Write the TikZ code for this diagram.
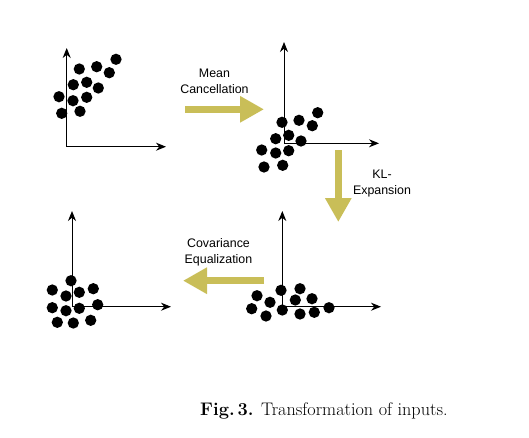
\documentclass[tikz,border=0pt]{standalone}
\usepackage{fontspec}
\newfontfamily\arialfont{Liberation Sans}
\usetikzlibrary{arrows.meta}
\definecolor{olive}{RGB}{201,190,88}
\begin{document}
\begin{tikzpicture}[x=1pt,y=-1pt,
  axis/.style={line width=1pt,-{Stealth[length=10pt,width=8pt]}},
  dot/.style={circle,fill=black,inner sep=0pt,minimum size=11.3pt},
  bigarrow/.style={olive,line width=7pt,-{Triangle[length=24pt,width=25pt]}},
  lbl/.style={font=\arialfont\fontsize{12.4}{16}\selectfont,align=center,inner sep=0pt}]
\useasboundingbox (0,0) rectangle (529,437);
% panel 1
\coordinate (o1) at (66.7,146.7);
\coordinate (y1) at (66.7,48);
\coordinate (x1) at (166,146.7);
\draw[axis] (o1) -- (y1);
\draw[axis] (o1) -- (x1);
\foreach \p [count=\i] in {(116,59.3),(96.7,66.7),(79.3,69),(109.3,72.7),(86.7,82.3),(73.3,84.7),(98.3,88),(59,96.7),(86.7,97.3),(73,100.7),(61.7,113.3),(80,111.3)}
  \node[dot] (a\i) at \p {};
% panel 2
\coordinate (o2) at (284,143.3);
\coordinate (y2) at (284,42);
\coordinate (x2) at (379,143.3);
\draw[axis] (o2) -- (y2);
\draw[axis] (o2) -- (x2);
\foreach \p [count=\i] in {(317.7,112.7),(299,120.3),(282,122.3),(312.3,125.7),(288.7,135.3),(275.7,138.7),(301,141),(261.7,150),(275.7,153),(288.7,150.7),(264,167),(282.7,165.3)}
  \node[dot] (b\i) at \p {};
% panel 3
\coordinate (o3) at (72,306.7);
\coordinate (y3) at (72,211);
\coordinate (x3) at (171,306.7);
\draw[axis] (o3) -- (y3);
\draw[axis] (o3) -- (x3);
\foreach \p [count=\i] in {(71,280.7),(52.3,290),(79.3,292.3),(66,296),(93.3,288.7),(52.3,307.7),(79.3,308.3),(66,310.7),(97.7,304.7),(57.3,322.3),(73.3,323),(90.7,320.3)}
  \node[dot] (c\i) at \p {};
% panel 4
\coordinate (o4) at (282.3,306.7);
\coordinate (y4) at (282.3,211);
\coordinate (x4) at (381,306.7);
\draw[axis] (o4) -- (y4);
\draw[axis] (o4) -- (x4);
\foreach \p [count=\i] in {(281,290.3),(300,288.7),(257,295.7),(270,302.3),(295.3,300),(312,298.7),(251.7,308.7),(282.3,310),(329,307.7),(266,316),(300,314),(314.3,312.3)}
  \node[dot] (d\i) at \p {};
% transformation arrows
\coordinate (m1) at (185,109.3);
\coordinate (m2) at (264,109.3);
\draw[bigarrow] (m1) -- (m2);
\node[lbl] (mtxt) at (214.5,81) {Mean\\Cancellation};
\coordinate (k1) at (338.3,150);
\coordinate (k2) at (338.3,222);
\draw[bigarrow] (k1) -- (k2);
\node[lbl] (ktxt) at (382,184) {KL-\\Expansion};
\coordinate (e1) at (264,280.7);
\coordinate (e2) at (183,280.7);
\draw[bigarrow] (e1) -- (e2);
\node[lbl] (etxt) at (218.5,252) {Covariance\\Equalization};
% caption
\node[anchor=base west,inner sep=0pt,font=\fontsize{18.2}{21}\selectfont] (cap) at (200,415) {\textbf{Fig.\,3.} Transformation of inputs.};
\end{tikzpicture}
\end{document}
